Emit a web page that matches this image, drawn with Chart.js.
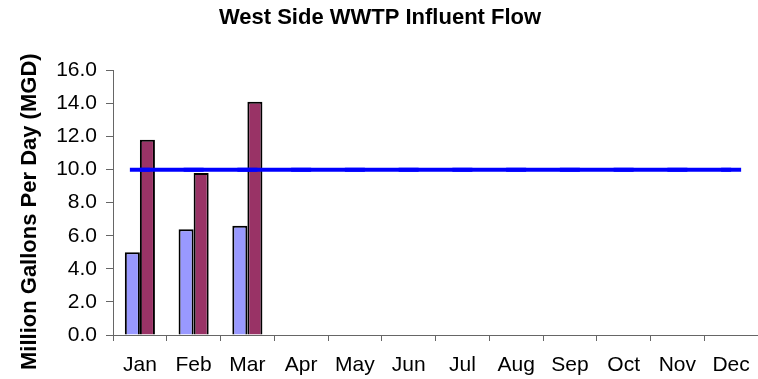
<!DOCTYPE html>
<html>
<head>
<meta charset="utf-8">
<title>West Side WWTP Influent Flow</title>
<script src="https://cdn.jsdelivr.net/npm/chart.js@4.4.1/dist/chart.umd.min.js"></script>
<style>
  html, body { margin: 0; padding: 0; background: #fff; }
  #wrap { width: 758px; height: 379px; }
</style>
</head>
<body>
<div id="wrap"><canvas id="flowChart" width="758" height="379"></canvas></div>
<script>
// monthly flows in MGD
const months = ['Jan', 'Feb', 'Mar', 'Apr', 'May', 'Jun', 'Jul', 'Aug', 'Sep', 'Oct', 'Nov', 'Dec'];
const avgFlow = [5.0, 6.4, 6.6, null, null, null, null, null, null, null, null, null];
const maxFlow = [11.8, 9.8, 14.1, null, null, null, null, null, null, null, null, null];
const designCapacity = [10, 10, 10, 10, 10, 10, 10, 10, 10, 10, 10, 10];
const yTitle = 'Million Gallons Per Day (MGD)';

const FONT = '"Liberation Sans", Arial, sans-serif';
const AXIS = '#666666';

// rotated y axis title, sitting a little lower than the plot middle
const yTitlePlugin = {
  id: 'yTitle',
  afterDraw(chart) {
    const c = chart.ctx;
    const area = chart.chartArea;
    c.save();
    c.translate(30, (area.top + area.bottom) / 2 + 9);
    c.rotate(-Math.PI / 2);
    c.font = 'bold 22px ' + FONT;
    c.fillStyle = '#000';
    c.textAlign = 'center';
    c.textBaseline = 'middle';
    c.fillText(yTitle, 0, 0);
    c.restore();
  }
};

const ctx = document.getElementById('flowChart').getContext('2d');

new Chart(ctx, {
  type: 'bar',
  data: {
    labels: months,
    datasets: [
      {
        label: 'Average',
        data: avgFlow,
        backgroundColor: '#9999FF',
        borderColor: '#000000',
        borderWidth: 2,
        barPercentage: 1,
        categoryPercentage: 0.56,
        order: 2
      },
      {
        label: 'Maximum',
        data: maxFlow,
        backgroundColor: '#993366',
        borderColor: '#000000',
        borderWidth: 2,
        barPercentage: 1,
        categoryPercentage: 0.56,
        order: 2
      },
      {
        type: 'line',
        label: 'Capacity',
        data: designCapacity,
        borderColor: '#0000FF',
        borderWidth: 4,
        pointStyle: 'line',
        pointRadius: 10,
        pointBorderWidth: 4,
        pointBorderColor: '#0000FF',
        pointHoverRadius: 10,
        tension: 0,
        order: 1
      }
    ]
  },
  options: {
    responsive: false,
    animation: false,
    // the capacity markers would otherwise shrink the plot to make room
    layout: { autoPadding: false, padding: { left: 0, right: -2, top: 0, bottom: 0 } },
    plugins: {
      legend: { display: false },
      tooltip: { enabled: false },
      title: {
        display: true,
        text: 'West Side WWTP Influent Flow',
        color: '#000',
        font: { family: FONT, size: 22, weight: 'bold' },
        padding: { top: 5, bottom: 39 }
      }
    },
    scales: {
      x: {
        grid: {
          drawOnChartArea: false,
          drawTicks: true,
          tickLength: 6,
          color: AXIS,
          offset: true
        },
        border: { display: true, color: AXIS, width: 1 },
        ticks: {
          color: '#000',
          font: { family: FONT, size: 21 },
          padding: 12,
          maxRotation: 0,
          autoSkip: false
        },
        afterFit: (scale) => {
          scale.height = 44;
          scale.paddingLeft = 0;
          scale.paddingRight = 0;
        }
      },
      y: {
        min: 0,
        max: 16,
        grid: {
          drawOnChartArea: false,
          drawTicks: true,
          tickLength: 7,
          color: AXIS
        },
        border: { display: true, color: AXIS, width: 1 },
        ticks: {
          stepSize: 2,
          color: '#000',
          font: { family: FONT, size: 21 },
          padding: 9,
          callback: (v) => Number(v).toFixed(1)
        },
        afterFit: (scale) => { scale.width = 113; }
      }
    }
  },
  plugins: [yTitlePlugin]
});
</script>
</body>
</html>
